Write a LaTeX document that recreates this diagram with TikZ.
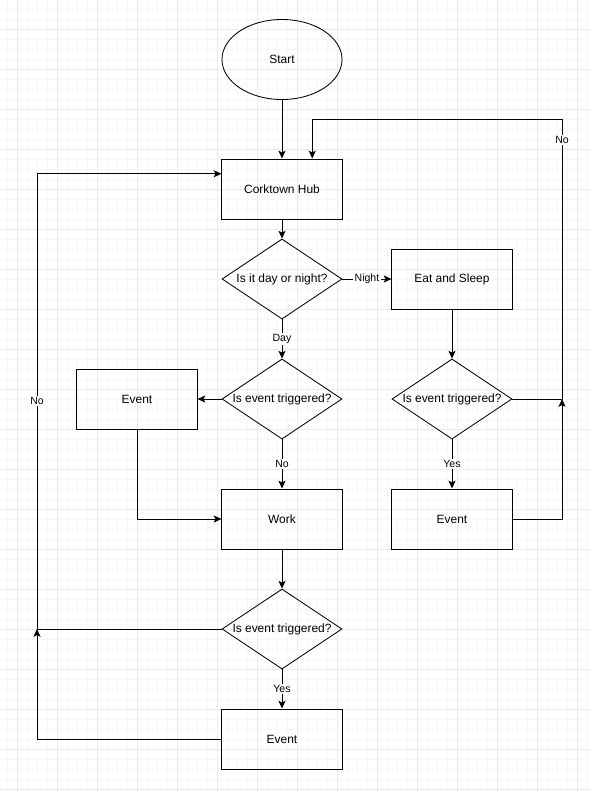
\documentclass[tikz,border=0pt]{standalone}
\usepackage{fontspec}
\setmainfont{Liberation Sans}
\usepackage{tikz}
\usetikzlibrary{arrows,arrows.meta,shapes,positioning}
\usetikzlibrary{calc}
\tikzstyle{arrow}   = [line width=0.7pt,->,>={Stealth[length=5.5pt,width=5pt,inset=1.2pt]}]
\tikzstyle{box}     = [draw, line width=0.7pt, minimum width=3cm, minimum height=1.5cm, font=\fontsize{8.5}{10}\selectfont]
\tikzstyle{ask}     = [draw, diamond, line width=0.6pt, inner sep=0pt, minimum width=3cm, minimum height=2cm, font=\fontsize{8.5}{10}\selectfont]
\tikzstyle{lbl}     = [fill=white, inner sep=1pt, font=\fontsize{7.5}{9}\selectfont]
\tikzstyle{gridminor} = [line width=0.4pt, black!3]
\tikzstyle{gridmajor} = [line width=0.6pt, black!8]

\begin{document}
\begin{tikzpicture}[x=0.025cm, y=-0.025cm]
        \useasboundingbox (0,0) rectangle (590,791);
        \fill[white] (0,0) rectangle (590,791);
        % background grid
        \foreach \x in {7,17,...,587}
            \draw[gridminor] (\x,0) -- (\x,791);
        \foreach \y in {9,19,...,789}
            \draw[gridminor] (0,\y) -- (590,\y);
        \foreach \x in {17,57,...,577}
            \draw[gridmajor] (\x,0) -- (\x,791);
        \foreach \y in {29,69,...,789}
            \draw[gridmajor] (0,\y) -- (590,\y);

        \node[draw, ellipse, line width=0.6pt, minimum width=3cm, minimum height=2cm, font=\fontsize{8.5}{10}\selectfont] (start) at (282,59.5) {Start};
        \node[box] (hub) at (282,189) {Corktown Hub};
        \node[ask] (dayq) at (282,279) {\makebox[0pt]{Is it day or night?}};
        \node[box] (eat) at (452,279) {Eat and Sleep};
        \node[ask] (evq) at (282,399) {\makebox[0pt]{Is event triggered?}};
        \node[box] (evL) at (137,399) {Event};
        \node[box] (work) at (282,519) {Work};
        \node[ask] (workq) at (282,629) {\makebox[0pt]{Is event triggered?}};
        \node[box] (evB) at (282,739) {Event};
        \node[ask] (nightq) at (452,399) {\makebox[0pt]{Is event triggered?}};
        \node[box] (evR) at (452,519) {Event};

        \coordinate (jL) at (37,629);
        \coordinate (jR) at (562,399);
        \coordinate (topR) at (562,119);
        \coordinate (hubL) at ($(hub.west)!0.5!(hub.north west)$);
        \coordinate (hubT) at ($(hub.north)!0.5!(hub.north east)$);

        \draw[arrow] (start) -- (hub);
        \draw[arrow] (hub) -- (dayq);
        \draw[arrow] (dayq) -- node[lbl] {Night} (eat);
        \draw[arrow] (dayq) -- node[lbl] {Day} (evq);
        \draw[arrow] (evq) -- (evL);
        \draw[arrow] (evq) -- node[lbl] {No} (work);
        \draw[arrow] (evL) |- (work);
        \draw[arrow] (work) -- (workq);
        \draw[arrow] (workq) -- node[lbl] {Yes} (evB);
        \draw[arrow] (evB) -| (jL);
        \draw[arrow] (workq) -- (jL) -- node[lbl] {No} (jL |- hubL) -- (hubL);

        % night side
        \draw[arrow] (eat) -- (nightq);
        \draw[arrow] (nightq) -- node[lbl] {Yes} (evR);
        \draw[arrow] (evR) -| (jR);
        \draw[arrow] (nightq) -- (jR) -- node[lbl, pos=0.925] {No} (topR) -| (hubT);
    \end{tikzpicture}
\end{document}
